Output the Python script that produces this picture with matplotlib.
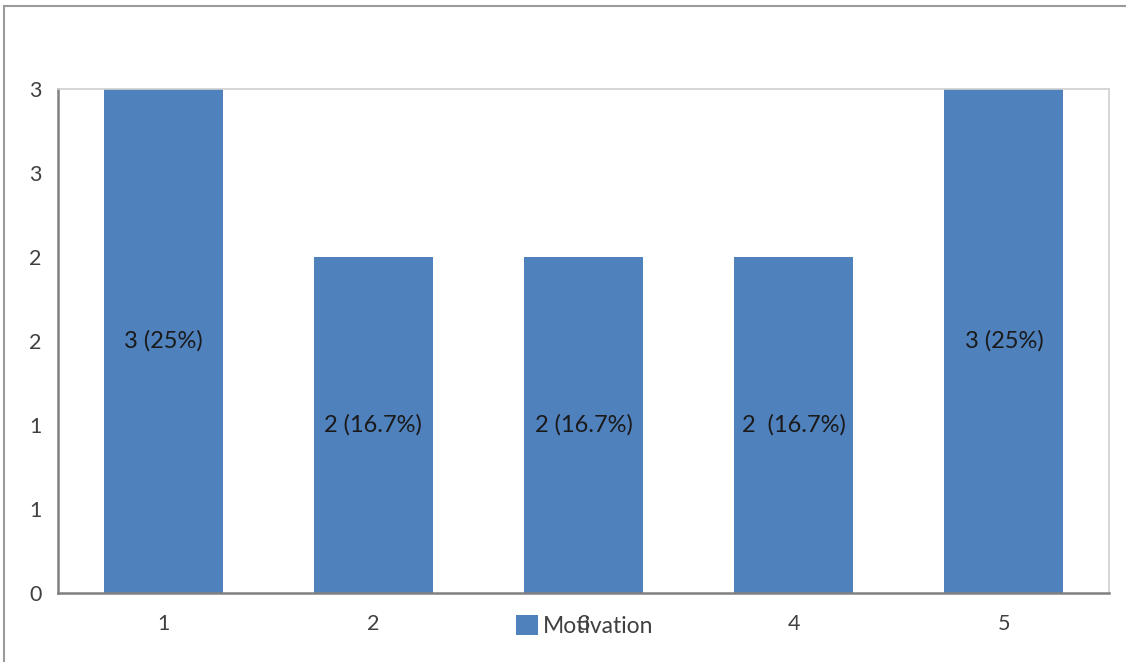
import matplotlib.pyplot as plt
from matplotlib.patches import Rectangle

categories = ["1", "2", "3", "4", "5"]
counts = [3, 2, 2, 2, 3]
bar_labels = ["3 (25%)", "2 (16.7%)", "2 (16.7%)", "2  (16.7%)", "3 (25%)"]
y_ticks = [0, 0.5, 1, 1.5, 2, 2.5, 3]
y_tick_labels = ["0", "1", "1", "2", "2", "3", "3"]

plt.rcParams["font.family"] = ["Lato", "DejaVu Sans"]

fig = plt.figure(figsize=(11.26, 6.62), dpi=100)
ax = fig.add_axes([58 / 1126, 1 - 593 / 662, 1051 / 1126, 504 / 662])

x = range(len(categories))
bars = ax.bar(x, counts, width=0.566, color="#4F81BD", label="Motivation", zorder=2)

for rect, text in zip(bars, bar_labels):
    ax.text(rect.get_x() + rect.get_width() / 2, rect.get_height() / 2, text,
            ha="center", va="center", fontsize=17, color="#1a1a1a")

ax.set_xlim(-0.5, len(categories) - 0.5)
ax.set_ylim(0, 3)
ax.set_xticks(list(x))
ax.set_xticklabels(categories)
ax.set_yticks(y_ticks)
ax.set_yticklabels(y_tick_labels)
ax.tick_params(axis="both", length=0, labelsize=15.5, labelcolor="#404040")
ax.tick_params(axis="x", pad=15)
ax.tick_params(axis="y", pad=12)

for side in ("top", "right"):
    ax.spines[side].set_color("#d0d0d0")
    ax.spines[side].set_linewidth(1.2)
for side in ("left", "bottom"):
    ax.spines[side].set_color("#808080")
    ax.spines[side].set_linewidth(1.8)

ax.legend(loc="center", bbox_to_anchor=(0.501, -0.065),
          frameon=False, fontsize=16.5, handlelength=0.95, handleheight=1.0,
          handletextpad=0.2, labelcolor="#404040")

# outer chart border
fig.patches.append(Rectangle((4 / 1126, -0.1), 1.2, 1 - 6 / 662 + 0.1,
                             transform=fig.transFigure, fill=False,
                             edgecolor="#9a9a9a", linewidth=1.5))

fig.savefig("out.png", dpi=100)
